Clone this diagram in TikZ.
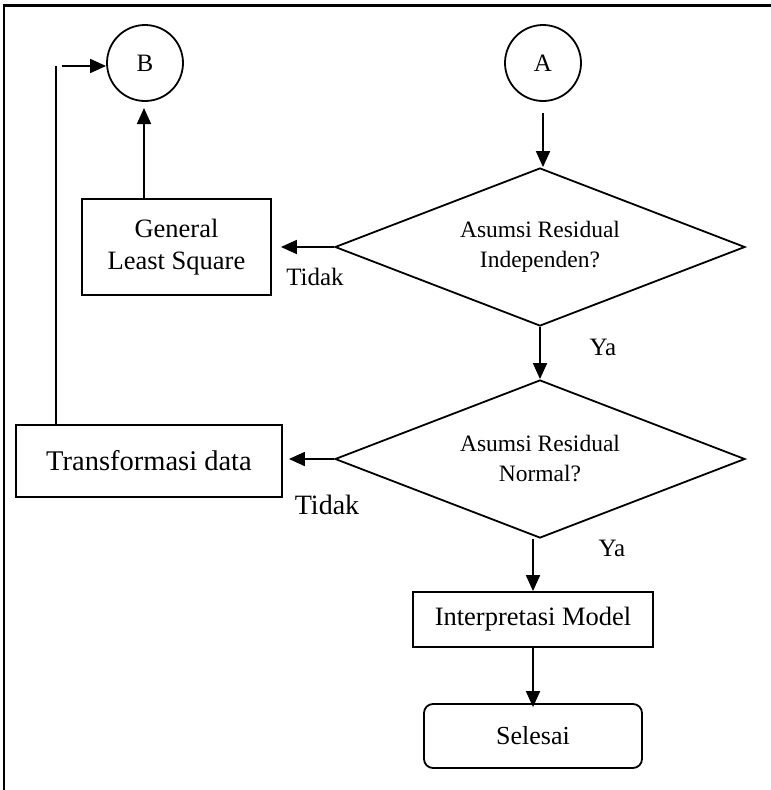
\documentclass[tikz,border=0pt]{standalone}
\usepackage{fontspec}
\setmainfont{Liberation Serif}
\usetikzlibrary{shapes.geometric,arrows.meta}
\begin{document}
\begin{tikzpicture}[x=1pt,y=-1pt,
  line width=1.8pt,
  conn/.style={-{Triangle[length=16pt,width=14pt]}},
  circ/.style={draw,circle,minimum size=76pt,inner sep=0pt,font=\fontsize{25}{28}\selectfont},
  dec/.style={draw,diamond,minimum width=410pt,minimum height=158pt,inner sep=0pt,aspect=2.6,align=center,font=\fontsize{23.5}{30}\selectfont},
  procbox/.style={draw,rectangle,inner sep=0pt,align=center},
  lbl/.style={inner sep=0pt,font=\fontsize{25}{30}\selectfont}]
\useasboundingbox (0,0) rectangle (771,790);
\draw[line width=2.2pt] (4,790) -- (4,5.5) -- (771,5.5);
\node[circ] (B) at (145,63) {B};
\node[circ] (A) at (543,63) {A};
\node[dec] (D1) at (540,247) {Asumsi Residual\\Independen?};
\node[dec] (D2) at (540,459) {Asumsi Residual\\Normal?};
\node[procbox,minimum width=189pt,minimum height=96pt,font=\fontsize{26.5}{32}\selectfont] (GLS) at (176.5,247) {General\\Least Square};
\node[procbox,minimum width=266pt,minimum height=72pt,font=\fontsize{28.5}{32}\selectfont] (TD) at (149,461) {Transformasi data};
\node[procbox,minimum width=240pt,minimum height=55pt,font=\fontsize{26.5}{32}\selectfont] (IM) at (533,619.5) {Interpretasi Model};
\node[procbox,rounded corners=9pt,minimum width=218pt,minimum height=64pt,font=\fontsize{26}{32}\selectfont] (SE) at (533,736) {Selesai};
\node[lbl] (t1) at (315,277) {Tidak};
\node[lbl,font=\fontsize{28}{32}\selectfont] (t2) at (327,505) {Tidak};
\node[lbl] (y1) at (603,347) {Ya};
\node[lbl] (y2) at (612,548) {Ya};
\coordinate (c1) at (56,66);
\coordinate (c2) at (62,66);
\coordinate (a1) at (543,113);
\coordinate (b1) at (144,108);
\draw[conn] (a1) -- (a1 |- D1.north);
\draw[conn] (D1.south) -- (D2.north);
\draw[conn] (D1.west) -- ([xshift=9pt]D1.west -| GLS.east);
\draw[conn] (D2.west) -- ([xshift=6pt]D2.west -| TD.east);
\draw[conn] (b1 |- GLS.north) -- (b1);
\draw[conn] (IM.north |- D2.south) -- (IM.north);
\draw[conn] (IM.south) -- ([yshift=-4pt]SE.north);
\draw (TD.north -| c1) -- (c1);
\draw[conn] (c2) -- (c2 -| B.west);
\end{tikzpicture}
\end{document}
